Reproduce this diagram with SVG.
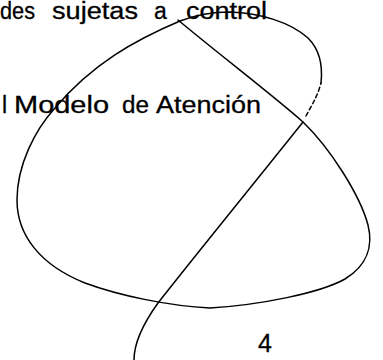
<svg xmlns="http://www.w3.org/2000/svg" width="383" height="360" viewBox="0 0 383 360">
<style>
.t{font-family:"Liberation Sans",Arial,sans-serif;font-size:23px;fill:#000;stroke:#000;stroke-width:0.3}
.s{fill:none;stroke:#000;stroke-width:1.5;stroke-linecap:round;stroke-linejoin:round}
</style>
<rect width="383" height="360" fill="#fff"/>
<g id="text">
<text class="t" x="0" y="19" textLength="35" lengthAdjust="spacingAndGlyphs">des</text>
<text class="t" x="52" y="19" textLength="86" lengthAdjust="spacingAndGlyphs">sujetas</text>
<text class="t" x="154" y="19">a</text>
<text class="t" x="186" y="19" textLength="81" lengthAdjust="spacingAndGlyphs">control</text>
<text class="t" x="2" y="113">l</text>
<text class="t" x="14" y="113" textLength="95" lengthAdjust="spacingAndGlyphs">Modelo</text>
<text class="t" x="122" y="113" textLength="27" lengthAdjust="spacingAndGlyphs">de</text>
<text class="t" x="156" y="113" textLength="105" lengthAdjust="spacingAndGlyphs">Atención</text>
<text class="t" x="258" y="352" style="font-size:25px">4</text>
</g>
<g id="strokes">
<path class="s" d="M134,360 C134,345 140,328 158,303 C190,262 260,176 303,122"/>
<path class="s" d="M306,116 L313,103 Q318,94 321,83" stroke-dasharray="4 3"/>
<path class="s" d="M321,83 C323,65 320,50 308,38 C290,22 260,13 230,12 C210,12 193,16 180,21"/>
<path class="s" d="M178,20 C220,55 275,97 303,122 C330,148 360,195 368,225 C373,245 368,265 345,279 C320,293 260,305 210,308 C170,306 120,296 85,283 C40,265 17,235 17,200 C17,165 35,130 55,108 C92,64 135,40 180,21"/>
</g>
</svg>
